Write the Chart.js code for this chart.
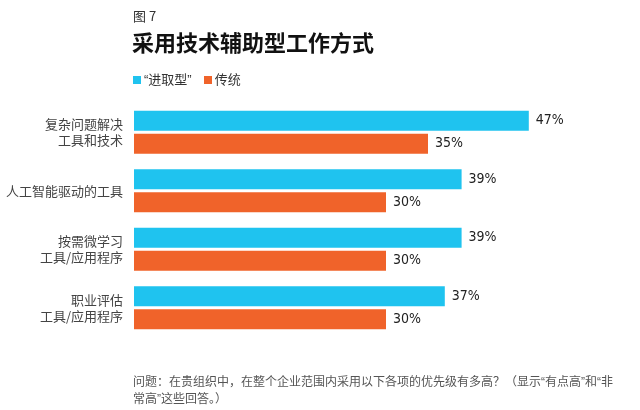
<!DOCTYPE html>
<html>
<head>
<meta charset="utf-8">
<script src="https://cdn.jsdelivr.net/npm/chart.js@4"></script>
<style>
  body { margin: 0; background: #fff; font-family: "Noto Sans CJK SC", sans-serif; }
  #wrap { position: relative; width: 640px; height: 410px; }
  #myChart { position: absolute; left: 0; top: 0; }
  .fig { position: absolute; left: 133px; top: 6px; font-size: 13px; color: #333; }
  .title { position: absolute; left: 132px; top: 25px; font-size: 22px; font-weight: bold; color: #111; }
  .legend { position: absolute; left: 133px; top: 69px; font-size: 13px; color: #333; }
  .legend span.box { display: inline-block; width: 8px; height: 8px; margin-right: 3px; vertical-align: 0px; }
  .legend span.item { margin-right: 9px; }
  .q { font-family: "Liberation Sans", sans-serif; }
  .note { position: absolute; left: 133px; top: 373px; width: 482px; font-size: 12px; line-height: 15px; color: #555; }
</style>
</head>
<body>
<div id="wrap">
  <canvas id="myChart" width="640" height="410"></canvas>
  <div class="fig">图 7</div>
  <div class="title">采用技术辅助型工作方式</div>
  <div class="legend">
    <span class="item"><span class="box" style="background:#1fc3ef"></span><span class="q">“</span>进取型<span class="q">”</span></span>
    <span class="item"><span class="box" style="background:#f0632a"></span>传统</span>
  </div>
  <div class="note">问题：在贵组织中，在整个企业范围内采用以下各项的优先级有多高？（显示<span class="q">“</span>有点高<span class="q">”</span>和<span class="q">“</span>非常高<span class="q">”</span>这些回答。）</div>
</div>
<script>
const categories = [
  ['复杂问题解决', '工具和技术'],
  '人工智能驱动的工具',
  ['按需微学习', '工具/应用程序'],
  ['职业评估', '工具/应用程序']
];
const aggressive = [47, 39, 39, 37];
const traditional = [35, 30, 30, 30];
const seriesNames = ['“进取型”', '传统'];

// writes the "47%" labels to the right of each bar
const valueLabels = {
  id: 'valueLabels',
  afterDatasetsDraw(chart) {
    const c = chart.ctx;
    c.save();
    c.font = '14px "Liberation Sans Narrow", "DejaVu Sans Condensed", sans-serif';
    c.fillStyle = '#222';
    c.textBaseline = 'middle';
    chart.data.datasets.forEach((ds, i) => {
      chart.getDatasetMeta(i).data.forEach((bar, j) => {
        c.fillText(ds.data[j] + '%', bar.x + 7, bar.y);
      });
    });
    c.restore();
  }
};

const ctx = document.getElementById('myChart');

new Chart(ctx, {
  type: 'bar',
  data: {
    labels: categories,
    datasets: [
      { label: seriesNames[0], data: aggressive, backgroundColor: '#1fc3ef' },
      { label: seriesNames[1], data: traditional, backgroundColor: '#f0632a' }
    ]
  },
  options: {
    indexAxis: 'y',
    responsive: false,
    animation: false,
    layout: { padding: { top: 103, bottom: 73, right: 86, left: 0 } },
    datasets: {
      bar: { categoryPercentage: 0.79, barPercentage: 0.87 }
    },
    scales: {
      x: { min: 0, max: 50, display: false },
      y: {
        grid: { display: false, drawTicks: false },
        border: { display: false },
        afterFit(scale) { scale.width = 134; },
        ticks: {
          color: '#444',
          padding: 11,
          font: { size: 13, family: '"Noto Sans CJK SC", sans-serif', lineHeight: 1.25 }
        }
      }
    },
    plugins: {
      legend: { display: false },
      tooltip: { enabled: false }
    }
  },
  plugins: [valueLabels]
});
</script>
</body>
</html>
